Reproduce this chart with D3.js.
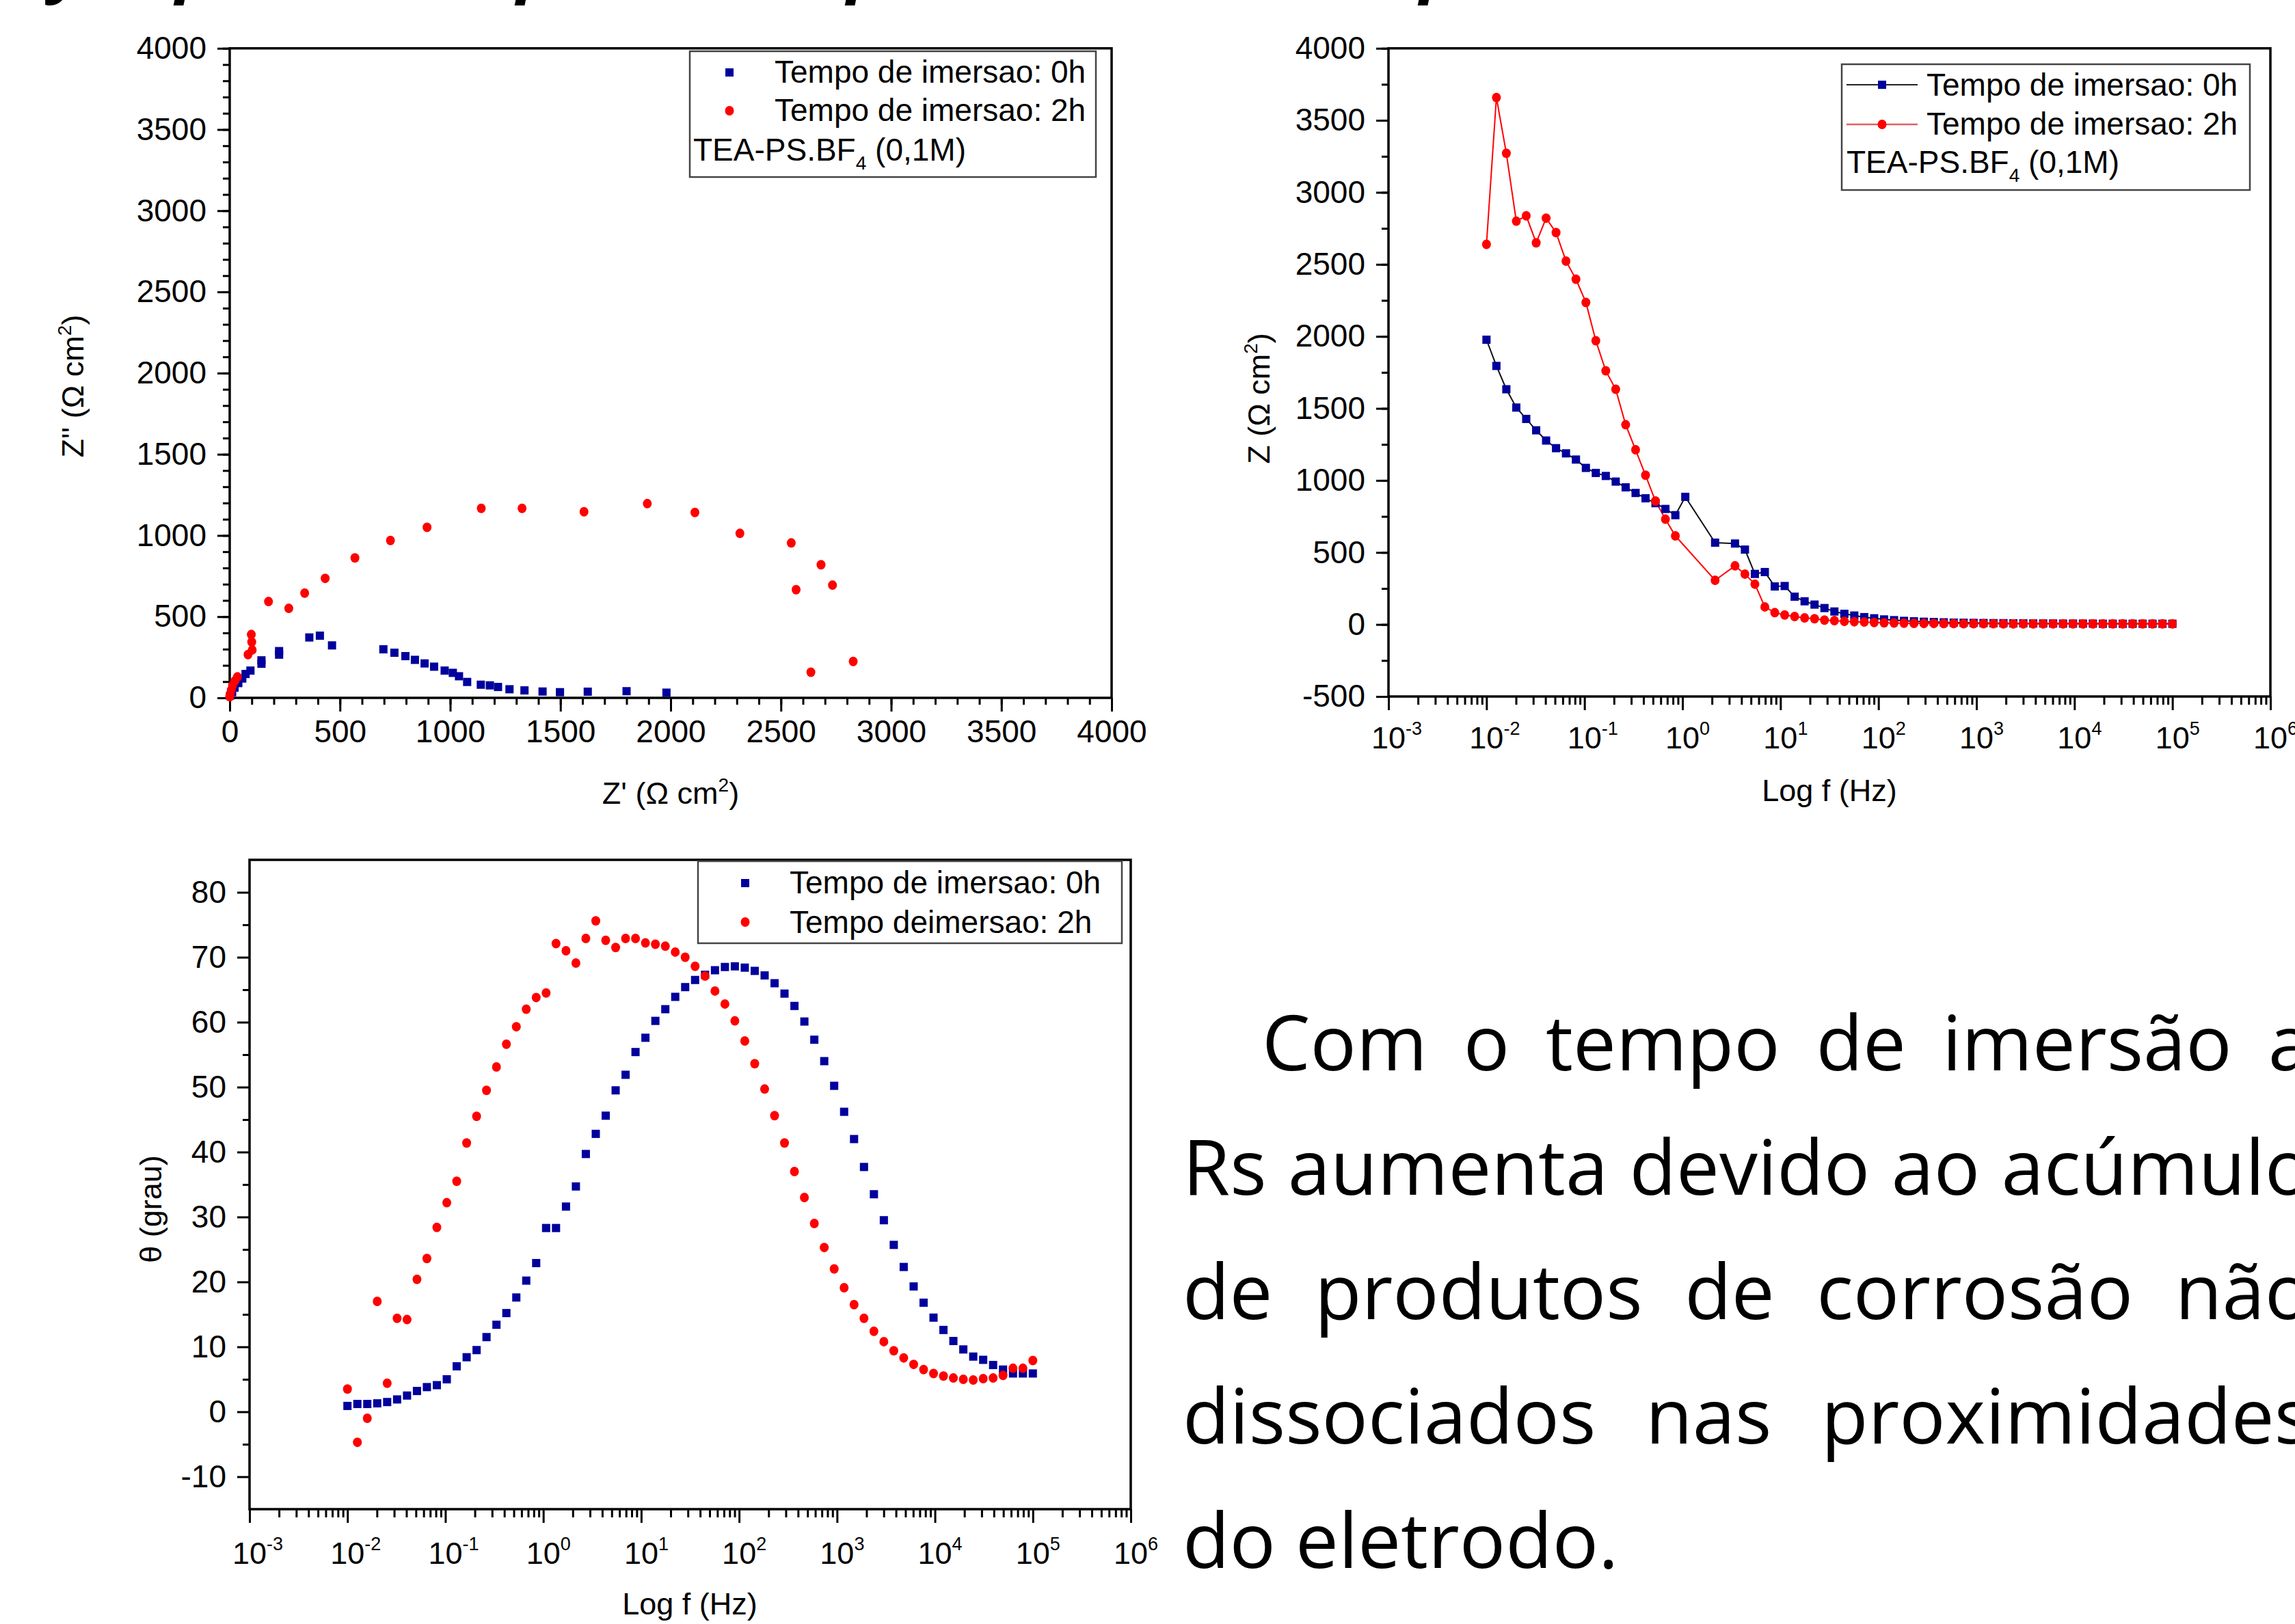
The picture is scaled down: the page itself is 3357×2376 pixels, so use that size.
<!DOCTYPE html>
<meta charset="utf-8">
<style>
body { margin: 0; background: #fff; }
text { font-family: "Liberation Sans", Arial, sans-serif; fill: #000; }
.para { font-family: "Open Sans", sans-serif; font-size: 112px; }
.cut { font-family: "Open Sans", sans-serif; font-style: italic; font-weight: bold; font-size: 100px; }
</style>
<body>
<script src="https://d3js.org/d3.v7.min.js"></script>
<script>

// ---- Nyquist (Z' vs Z'') ----
var nyqRe0 = [2, 11, 22, 39, 57, 72, 94, 144, 144, 224, 224, 361, 409, 464, 697, 747, 797, 840, 884, 927, 975, 1012, 1040, 1077, 1139, 1180, 1217, 1269, 1337, 1419, 1498, 1624, 1800, 1981];
var nyqIm0 = [14, 35, 63, 91, 119, 147, 168, 210, 231, 266, 288, 372, 383, 323, 299, 278, 257, 234, 212, 192, 168, 154, 133, 98, 81, 77, 67, 53, 46, 39, 35, 38, 41, 32];
var nyqRe2 = [0, 2, 7, 13, 24, 35, 83, 98, 100, 102, 176, 268, 340, 433, 568, 729, 895, 1141, 1326, 1607, 1894, 2110, 2314, 2547, 2569, 2682, 2734, 2636, 2828];
var nyqIm2 = [7, 21, 49, 77, 105, 129, 266, 390, 344, 295, 593, 551, 645, 736, 862, 969, 1050, 1167, 1167, 1146, 1196, 1142, 1013, 954, 666, 820, 694, 158, 224];

// ---- Bode: frequencies (Hz) ----
var freq = [0.01, 0.01263, 0.01595, 0.02015, 0.02545, 0.03215, 0.04061, 0.05129, 0.06479, 0.08185,
  0.1034, 0.1306, 0.1650, 0.2084, 0.2632, 0.3325, 0.4200, 0.5305, 0.6701, 0.8465,
  1.069, 1.350, 1.706, 2.154, 2.721, 3.438, 4.342, 5.484, 6.928, 8.750,
  11.05, 13.96, 17.64, 22.28, 28.14, 35.54, 44.90, 56.71, 71.63, 90.48,
  114.3, 144.4, 182.3, 230.3, 290.9, 367.5, 464.2, 586.3, 740.6, 935.4,
  1182, 1493, 1886, 2382, 3009, 3800, 4800, 6063, 7659, 9674,
  12220, 15430, 19500, 24620, 31110, 39290, 49630, 62690, 79180, 100000];

// |Z| (ohm cm2), null = no point
var modZ0 = [1977, 1795, 1633, 1506, 1427, 1348, 1277, 1224, 1188, 1145,
  1087, 1052, 1031, 992, 952, 913, 876, 842, 802, 759,
  886, null, null, 568, null, 562, 520, 351, 364, 264,
  267, 193, 161, 138, 114, 90, 74, 62, 51, 43,
  35, 30, 25, 22, 19, 17, 15, 13, 12, 11,
  10, 9, 9, 8, 8, 7, 7, 7, 6, 6,
  6, 6, 5, 5, 5, 5, 5, 5, 5, 5];
var modZ2 = [2639, 3658, 3271, 2800, 2837, 2650, 2821, 2721, 2523, 2397,
  2236, 1970, 1761, 1633, 1387, 1213, 1036, 857, 731, 615,
  null, null, null, 307, null, 407, 350, 280, 122, 82,
  66, 55, 46, 40, 30, 27, 22, 19, 17, 14,
  11, 10, 9, 8, 7, 7, 6, 6, 5, 5,
  5, 5, 4, 4, 4, 4, 4, 4, 4, 4,
  4, 4, 4, 4, 4, 4, 4, 4, 4, 4];

// phase (grau)
var phase0 = [0.9, 1.2, 1.2, 1.3, 1.5, 1.9, 2.5, 3.2, 3.8, 4.1,
  5.0, 7.0, 8.4, 9.5, 11.5, 13.4, 15.2, 17.6, 20.2, 22.9,
  28.3, 28.3, 31.6, 34.7, 39.7, 42.8, 45.6, 49.5, 51.9, 55.4,
  57.6, 60.2, 62.0, 63.9, 65.4, 66.5, 67.3, 68.0, 68.5, 68.6,
  68.4, 67.9, 67.2, 66.0, 64.4, 62.5, 60.1, 57.3, 54.0, 50.2,
  46.2, 42.0, 37.7, 33.5, 29.5, 25.7, 22.3, 19.3, 16.8, 14.5,
  12.6, 10.9, 9.6, 8.5, 8.0, 7.2, 6.5, 5.9, 5.9, 5.9];
var phase2 = [3.5, -4.7, -1.0, 17.0, 4.4, 14.4, 14.2, 20.4, 23.6, 28.4,
  32.2, 35.5, 41.4, 45.5, 49.5, 53.1, 56.6, 59.3, 62.0, 63.8,
  64.5, 72.1, 71.0, 69.1, 72.9, 75.6, 72.6, 71.5, 72.9, 72.9,
  72.2, 72.0, 71.7, 70.8, 70.0, 68.6, 67.1, 64.8, 62.8, 60.2,
  57.1, 53.6, 49.7, 45.6, 41.4, 37.0, 33.0, 29.0, 25.3, 22.0,
  19.1, 16.5, 14.4, 12.4, 10.8, 9.4, 8.3, 7.3, 6.5, 5.9,
  5.5, 5.2, 5.0, 4.9, 5.1, 5.2, 5.6, 6.7, 6.7, 7.9];

var legend1 = ["Tempo de imersao: 0h", "Tempo de imersao: 2h"];
var legend3 = ["Tempo de imersao: 0h", "Tempo deimersao: 2h"];
var decades = [1e-3, 1e-2, 1e-1, 1e0, 1e1, 1e2, 1e3, 1e4, 1e5, 1e6];

var paraLines = ["Com o tempo de imersão a", "Rs aumenta devido ao acúmulo",
  "de produtos de corrosão não", "dissociados nas proximidades", "do eletrodo."];

var width = 3357, height = 2376;
var blue = "#00009c", red = "#ff0000";
var plain = function(d) { return String(d); };

var svg = d3.select("body").append("svg")
    .attr("width", width)
    .attr("height", height);
svg.append("rect").attr("width", width).attr("height", height).attr("fill", "#fff");

function pairs(xs, ys) {
  return xs.map(function(x, i) { return [x, ys[i]]; }).filter(function(d) { return d[1] != null; });
}

function styleAxis(s) {
  s.select(".domain").remove();
  s.selectAll("line").attr("stroke", "#000").attr("stroke-width", 3);
  s.attr("font-size", 46).attr("font-family", "Liberation Sans, Arial, sans-serif");
  s.selectAll("text").attr("fill", "#000");
}

function linearY(g, y, x0, major, minor) {
  g.append("g").attr("transform", "translate(" + x0 + ",0)")
      .call(d3.axisLeft(y).tickValues(minor).tickSize(10).tickFormat(""))
      .call(styleAxis);
  g.append("g").attr("transform", "translate(" + x0 + ",0)")
      .call(d3.axisLeft(y).tickValues(major).tickSize(18).tickPadding(16).tickFormat(plain))
      .call(styleAxis);
}

function logX(g, x, y0, labelY) {
  var minor = [];
  decades.slice(0, -1).forEach(function(d) {
    for (var k = 2; k <= 9; k++) minor.push(d * k);
  });
  g.append("g").attr("transform", "translate(0," + y0 + ")")
      .call(d3.axisBottom(x).tickValues(minor).tickSize(12).tickFormat(""))
      .call(styleAxis);
  g.append("g").attr("transform", "translate(0," + y0 + ")")
      .call(d3.axisBottom(x).tickValues(decades).tickSize(20).tickFormat(""))
      .call(styleAxis);
  decades.forEach(function(d) {
    var t = g.append("text")
        .attr("x", x(d) - 25)
        .attr("y", labelY)
        .attr("font-size", 45);
    t.append("tspan").text("10");
    t.append("tspan").attr("dy", -20).attr("font-size", 27).text(Math.round(Math.log10(d)));
  });
}

function frame(g, x0, x1, y0, y1) {
  g.append("rect")
      .attr("x", x0).attr("y", y0)
      .attr("width", x1 - x0).attr("height", y1 - y0)
      .attr("fill", "none").attr("stroke", "#000").attr("stroke-width", 3.5);
}

function squares(g, data, x, y) {
  g.selectAll(null).data(data).enter().append("rect")
      .attr("x", function(d) { return x(d[0]) - 6; })
      .attr("y", function(d) { return y(d[1]) - 6; })
      .attr("width", 12).attr("height", 12)
      .attr("fill", blue);
}

function dots(g, data, x, y) {
  g.selectAll(null).data(data).enter().append("ellipse")
      .attr("cx", function(d) { return x(d[0]); })
      .attr("cy", function(d) { return y(d[1]); })
      .attr("rx", 6.5).attr("ry", 7)
      .attr("fill", red);
}

function yTitle(g, cx, cy, parts) {
  var t = g.append("text")
      .attr("transform", "translate(" + cx + "," + cy + ") rotate(-90)")
      .attr("text-anchor", "middle")
      .attr("font-size", 45);
  parts(t);
}

function ohmLabel(prefix) {
  return function(t) {
    t.append("tspan").text(prefix + " (\u03a9 cm");
    t.append("tspan").attr("dy", -18).attr("font-size", 28).text("2");
    t.append("tspan").attr("dy", 18).text(")");
  };
}

function teaLine(g, x, yb) {
  var t = g.append("text").attr("x", x).attr("y", yb).attr("font-size", 46);
  t.append("tspan").text("TEA-PS.BF");
  t.append("tspan").attr("dy", 13).attr("font-size", 28).text("4");
  t.append("tspan").attr("dy", -13).text(" (0,1M)");
}

function legendBox(g, x0, y0, x1, y1) {
  g.append("rect").attr("x", x0).attr("y", y0)
      .attr("width", x1 - x0).attr("height", y1 - y0)
      .attr("fill", "#fff").attr("stroke", "#444").attr("stroke-width", 2.5);
}

// ================= Chart 1: Nyquist =================
var g1 = svg.append("g");
var x1 = d3.scaleLinear().domain([0, 4000]).range([336, 1626]);
var y1 = d3.scaleLinear().domain([0, 4000]).range([1021, 70.7]);
var ticks500 = d3.range(0, 4001, 500), ticks100 = d3.range(0, 4001, 100);

linearY(g1, y1, 336, ticks500, ticks100);
g1.append("g").attr("transform", "translate(0,1021)")
    .call(d3.axisBottom(x1).tickValues(ticks100).tickSize(10).tickFormat(""))
    .call(styleAxis);
g1.append("g").attr("transform", "translate(0,1021)")
    .call(d3.axisBottom(x1).tickValues(ticks500).tickSize(20).tickPadding(12).tickFormat(plain))
    .call(styleAxis);
frame(g1, 336, 1626, 70.7, 1021);

squares(g1, pairs(nyqRe0, nyqIm0), x1, y1);
dots(g1, pairs(nyqRe2, nyqIm2), x1, y1);

legendBox(g1, 1009, 75, 1603, 259);
g1.append("rect").attr("x", 1061).attr("y", 100).attr("width", 12).attr("height", 12).attr("fill", blue);
g1.append("ellipse").attr("cx", 1067).attr("cy", 162).attr("rx", 6.5).attr("ry", 7).attr("fill", red);
g1.append("text").attr("x", 1133).attr("y", 121).attr("font-size", 46).text(legend1[0]);
g1.append("text").attr("x", 1133).attr("y", 177).attr("font-size", 46).text(legend1[1]);
teaLine(g1, 1014, 235);

yTitle(g1, 122, 565, function(t) {
  t.append("tspan").text("Z'' (\u03a9 cm");
  t.append("tspan").attr("dy", -18).attr("font-size", 28).text("2");
  t.append("tspan").attr("dy", 18).text(")");
});
var xt1 = g1.append("text").attr("x", 981).attr("y", 1176).attr("text-anchor", "middle").attr("font-size", 45);
ohmLabel("Z'")(xt1);

// ================= Chart 2: Bode |Z| =================
var g2 = svg.append("g");
var x2 = d3.scaleLog().domain([1e-3, 1e6]).range([2031, 3321]);
var y2 = d3.scaleLinear().domain([-500, 4000]).range([1019, 70.7]);

linearY(g2, y2, 2031, d3.range(-500, 4001, 500), d3.range(-500, 4001, 250));
logX(g2, x2, 1019, 1095);
frame(g2, 2031, 3321, 70.7, 1019);

var line2 = d3.line().x(function(d) { return x2(d[0]); }).y(function(d) { return y2(d[1]); });
var z0 = pairs(freq, modZ0), z2 = pairs(freq, modZ2);
g2.append("path").attr("d", line2(z0)).attr("fill", "none").attr("stroke", "#111").attr("stroke-width", 2);
g2.append("path").attr("d", line2(z2)).attr("fill", "none").attr("stroke", red).attr("stroke-width", 2);
squares(g2, z0, x2, y2);
dots(g2, z2, x2, y2);

legendBox(g2, 2694, 94, 3291, 278);
g2.append("line").attr("x1", 2701).attr("x2", 2805).attr("y1", 124).attr("y2", 124).attr("stroke", "#222").attr("stroke-width", 2);
g2.append("rect").attr("x", 2747).attr("y", 118).attr("width", 12).attr("height", 12).attr("fill", blue);
g2.append("line").attr("x1", 2701).attr("x2", 2805).attr("y1", 182).attr("y2", 182).attr("stroke", "#e06060").attr("stroke-width", 2.5);
g2.append("ellipse").attr("cx", 2753).attr("cy", 182).attr("rx", 6.5).attr("ry", 7).attr("fill", red);
g2.append("text").attr("x", 2818).attr("y", 140).attr("font-size", 46).text(legend1[0]);
g2.append("text").attr("x", 2818).attr("y", 197).attr("font-size", 46).text(legend1[1]);
teaLine(g2, 2701, 253);

yTitle(g2, 1857, 583, ohmLabel("Z"));
g2.append("text").attr("x", 2676).attr("y", 1172).attr("text-anchor", "middle").attr("font-size", 45).text("Log f (Hz)");

// ================= Chart 3: Bode phase =================
var g3 = svg.append("g");
var x3 = d3.scaleLog().domain([1e-3, 1e6]).range([365, 1654]);
var y3 = d3.scaleLinear().domain([-15, 85]).range([2208, 1258]);

linearY(g3, y3, 365, d3.range(-10, 81, 10), d3.range(-5, 80, 10));
logX(g3, x3, 2208, 2288);
frame(g3, 365, 1654, 1258, 2208);

squares(g3, pairs(freq, phase0), x3, y3);
dots(g3, pairs(freq, phase2), x3, y3);

legendBox(g3, 1021, 1260, 1641, 1380);
g3.append("rect").attr("x", 1084).attr("y", 1286).attr("width", 12).attr("height", 12).attr("fill", blue);
g3.append("ellipse").attr("cx", 1090).attr("cy", 1349).attr("rx", 6.5).attr("ry", 7).attr("fill", red);
g3.append("text").attr("x", 1155).attr("y", 1307).attr("font-size", 46).text(legend3[0]);
g3.append("text").attr("x", 1155).attr("y", 1365).attr("font-size", 46).text(legend3[1]);

yTitle(g3, 236, 1769, function(t) { t.text("\u03b8 (grau)"); });
g3.append("text").attr("x", 1009).attr("y", 2362).attr("text-anchor", "middle").attr("font-size", 45).text("Log f (Hz)");

// ================= cropped heading & paragraph =================
[[98, "y"], [282, "p"], [781, "p"], [1264, "p"], [2102, "p"]].forEach(function(d) {
  svg.append("text").attr("class", "cut").attr("x", d[0] - 25).attr("y", -16).text(d[1]);
});

var paraLeft = [1846, 1730, 1730, 1730, 1730];
var paraBase = [1566, 1748, 1930, 2112, 2294];
var paraRight = 3380;
paraLines.forEach(function(line, i) {
  var words = line.split(" ");
  var nodes = words.map(function(w) {
    return svg.append("text").attr("class", "para").attr("y", paraBase[i]).text(w);
  });
  var widths = nodes.map(function(n) { return n.node().getComputedTextLength(); });
  var total = d3.sum(widths);
  var justify = i < paraLines.length - 1;
  var gap = justify ? (paraRight - paraLeft[i] - total) / (words.length - 1) : 112 * 0.26;
  var x = paraLeft[i];
  nodes.forEach(function(n, k) {
    n.attr("x", x);
    x += widths[k] + gap;
  });
});

</script>
</body>
